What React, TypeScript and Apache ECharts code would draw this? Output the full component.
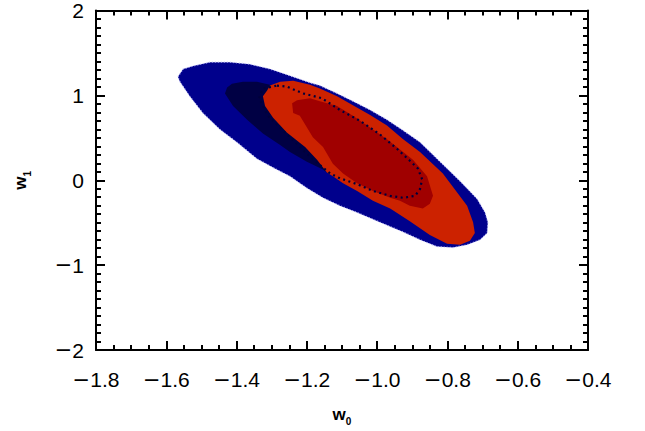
import React, { useEffect, useRef } from "react";
import * as echarts from "echarts";

// Axis ranges / ticks
const xRange = [-1.8, -0.4];
const xInterval = 0.2;
const yRange = [-2, 2];
const yInterval = 1;

// Contour regions in data coordinates [w0, w1]
const outerBlue: number[][] = [
  [-1.567, 1.218], [-1.552, 1.31], [-1.524, 1.345], [-1.476, 1.391], [-1.419, 1.391],
  [-1.362, 1.368], [-1.305, 1.31], [-1.248, 1.23], [-1.191, 1.149], [-1.163, 1.115],
  [-1.114, 1.023], [-1.069, 0.931], [-1.02, 0.828], [-0.972, 0.713], [-0.926, 0.586],
  [-0.878, 0.448], [-0.821, 0.218], [-0.764, -0.011], [-0.716, -0.218], [-0.693, -0.379],
  [-0.685, -0.494], [-0.687, -0.621], [-0.707, -0.701], [-0.744, -0.759], [-0.784, -0.793],
  [-0.83, -0.782], [-0.878, -0.701], [-0.926, -0.609], [-0.992, -0.494], [-1.057, -0.379],
  [-1.106, -0.299], [-1.154, -0.207], [-1.2, -0.092], [-1.248, 0.046], [-1.291, 0.138],
  [-1.342, 0.253], [-1.399, 0.448], [-1.447, 0.598], [-1.496, 0.793], [-1.533, 0.989],
  [-1.561, 1.161],
];

const innerBlue: number[][] = [
  [-1.433, 1.023], [-1.427, 1.092], [-1.413, 1.138], [-1.382, 1.161], [-1.342, 1.161],
  [-1.305, 1.126], [-1.248, 1.103], [-1.134, 0.966], [-1.049, 0.678], [-1.02, 0.391],
  [-1.063, 0.218], [-1.12, 0.08], [-1.143, 0.092], [-1.154, 0.126], [-1.2, 0.218],
  [-1.248, 0.333], [-1.276, 0.414], [-1.325, 0.552], [-1.37, 0.713], [-1.41, 0.874],
];

const outerRed: number[][] = [
  [-1.325, 0.989], [-1.313, 1.057], [-1.305, 1.115], [-1.276, 1.161], [-1.239, 1.172],
  [-1.191, 1.126], [-1.163, 1.08], [-1.114, 0.989], [-1.069, 0.885], [-1.02, 0.77],
  [-0.972, 0.644], [-0.926, 0.483], [-0.878, 0.333], [-0.813, 0.08], [-0.744, -0.299],
  [-0.727, -0.494], [-0.722, -0.621], [-0.736, -0.713], [-0.764, -0.759], [-0.801, -0.747],
  [-0.85, -0.644], [-0.907, -0.483], [-0.963, -0.333], [-1.012, -0.241], [-1.057, -0.126],
  [-1.097, -0.034], [-1.126, 0.046], [-1.143, 0.092], [-1.171, 0.241], [-1.205, 0.391],
  [-1.257, 0.563], [-1.296, 0.736], [-1.319, 0.874],
];

const innerRed: number[][] = [
  [-1.242, 0.908], [-1.228, 0.943], [-1.191, 0.966], [-1.163, 0.931], [-1.114, 0.874],
  [-1.069, 0.759], [-1.02, 0.621], [-0.972, 0.483], [-0.926, 0.333], [-0.898, 0.241],
  [-0.858, 0.046], [-0.841, -0.184], [-0.85, -0.276], [-0.87, -0.333], [-0.907, -0.299],
  [-0.935, -0.241], [-0.963, -0.207], [-1.012, -0.126], [-1.057, -0.034], [-1.097, 0.08],
  [-1.126, 0.195], [-1.154, 0.391], [-1.183, 0.506], [-1.22, 0.759], [-1.239, 0.793],
];

const dottedContour: number[][] = [
  [-1.285, 1.115], [-1.257, 1.103], [-1.211, 1.023], [-1.157, 0.966], [-1.106, 0.828],
  [-1.049, 0.701], [-0.992, 0.54], [-0.943, 0.368], [-0.907, 0.23], [-0.884, 0.138],
  [-0.872, 0.011], [-0.878, -0.103], [-0.892, -0.184], [-0.926, -0.207], [-0.963, -0.184],
  [-1.012, -0.126], [-1.057, -0.046], [-1.106, 0.023], [-1.134, 0.08], [-1.191, 0.276],
  [-1.248, 0.506], [-1.311, 0.759], [-1.336, 0.966], [-1.325, 1.08], [-1.285, 1.115],
];

const FONT = "Liberation Sans";

function polygonSeries(name: string, pts: number[][], fill: string, stroke?: any) {
  return {
    type: "custom",
    name,
    coordinateSystem: "cartesian2d",
    data: pts,
    encode: { x: 0, y: 1 },
    silent: true,
    renderItem: (params: any, api: any) => {
      if (params.dataIndex !== 0) return null;
      const points = pts.map((p) => api.coord(p));
      return {
        type: "polygon",
        shape: { points },
        style: Object.assign({ fill }, stroke || {}),
      };
    },
  };
}

const fmtX = (v: number) => (v < 0 ? "{m|\u2212}" : "") + Math.abs(v).toFixed(1);
const fmtY = (v: number) => (v < 0 ? "{m|\u2212}" : "") + Math.abs(Math.round(v)).toString();

export default function App() {
  const ref = useRef<HTMLDivElement>(null);
  useEffect(() => {
    document.body.style.margin = "0";
    const chart = echarts.init(ref.current!, null, { renderer: "svg" });
    const lineStyle = { color: "#000", width: 2 };
    const labelRich = { m: { fontFamily: "DejaVu Sans", fontSize: 21, color: "#000" } };
    const baseX = {
      type: "value",
      min: xRange[0],
      max: xRange[1],
      interval: xInterval,
      axisLine: { show: true, onZero: false, lineStyle },
      axisTick: { show: true, inside: true, length: 9, lineStyle },
      minorTick: { show: true, splitNumber: 4, length: 5, lineStyle },
      splitLine: { show: false },
      minorSplitLine: { show: false },
    };
    const baseY = {
      type: "value",
      min: yRange[0],
      max: yRange[1],
      interval: yInterval,
      axisLine: { show: true, onZero: false, lineStyle },
      axisTick: { show: true, inside: true, length: 9, lineStyle },
      minorTick: { show: true, splitNumber: 10, length: 5, lineStyle },
      splitLine: { show: false },
      minorSplitLine: { show: false },
    };
    const nameRich = {
      w: { fontSize: 17, fontWeight: "bold", fontFamily: FONT, color: "#000", lineHeight: 24, verticalAlign: "middle" },
      s: { fontSize: 10, fontWeight: "bold", fontFamily: FONT, color: "#000", lineHeight: 24, verticalAlign: "bottom" },
    };
    chart.setOption({
      animation: false,
      backgroundColor: "#fff",
      grid: { left: 96, top: 10, width: 492, height: 348, containLabel: false },
      xAxis: [
        {
          ...baseX,
          position: "bottom",
          axisLabel: { formatter: fmtX, fontSize: 21, color: "#000", fontFamily: FONT, margin: 19, showMinLabel: true, showMaxLabel: true, rich: labelRich },
          name: "{w|w}{s|0}",
          nameLocation: "middle",
          nameGap: 52,
          nameTextStyle: { rich: nameRich },
        },
        { ...baseX, position: "top", axisLabel: { show: false } },
      ],
      yAxis: [
        {
          ...baseY,
          position: "left",
          axisLabel: { formatter: fmtY, fontSize: 21, color: "#000", fontFamily: FONT, margin: 12, showMinLabel: true, showMaxLabel: true, rich: labelRich },
          name: "{w|w}{s|1}",
          nameLocation: "middle",
          nameGap: 64,
          nameRotate: 90,
          nameTextStyle: { rich: nameRich },
        },
        { ...baseY, position: "right", axisLabel: { show: false } },
      ],
      series: [
        polygonSeries("outerBlue", outerBlue, "#00008c", { stroke: "rgba(190,190,255,0.8)", lineWidth: 1.2, lineDash: [1.2, 1.8] }),
        polygonSeries("innerBlue", innerBlue, "#000044"),
        polygonSeries("outerRed", outerRed, "#cc2200"),
        polygonSeries("innerRed", innerRed, "#a00000"),
        {
          type: "line",
          name: "dotted",
          data: dottedContour,
          symbol: "none",
          silent: true,
          lineStyle: { color: "#00003a", width: 2.2, type: [2, 3.5] },
        },
      ],
    });
    return () => chart.dispose();
  }, []);
  return <div ref={ref} style={{ width: 645, height: 431 }} />;
}
